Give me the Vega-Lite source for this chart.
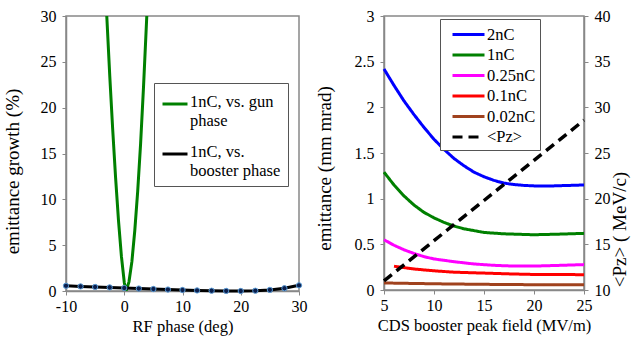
{
  "$schema": "https://vega.github.io/schema/vega-lite/v6.json",
  "background": "white",
  "padding": {"left": 2, "top": 7, "right": 5, "bottom": 5},
  "config": {
    "font": "Liberation Serif",
    "view": {"stroke": "#888", "strokeWidth": 1.5},
    "axis": {
      "labelFont": "Liberation Serif", "titleFont": "Liberation Serif",
      "labelFontSize": 16, "titleFontSize": 16.5, "titleFontWeight": "normal",
      "labelColor": "black", "titleColor": "black", "labelFlush": false,
      "domainColor": "#888", "tickColor": "#888", "domainWidth": 1.5,
      "grid": false, "tickSize": 4, "labelPadding": 3
    },
    "axisY": {"titleFontSize": 19, "labelPadding": 6},
    "legend": {"labelFont": "Liberation Serif", "labelFontSize": 16, "labelColor": "black"}
  },
  "datasets": {
    "gun": [
      {"phase": -3.0, "growth": 30, "series": "1nC, vs. gun phase"},
      {"phase": -2.49, "growth": 23.5, "series": "1nC, vs. gun phase"},
      {"phase": -1.99, "growth": 17.7, "series": "1nC, vs. gun phase"},
      {"phase": -1.49, "growth": 12.4, "series": "1nC, vs. gun phase"},
      {"phase": -0.99, "growth": 7.7, "series": "1nC, vs. gun phase"},
      {"phase": -0.49, "growth": 3.8, "series": "1nC, vs. gun phase"},
      {"phase": 0.01, "growth": 0.9, "series": "1nC, vs. gun phase"},
      {"phase": 0.31, "growth": 0, "series": "1nC, vs. gun phase"},
      {"phase": 0.81, "growth": 1.0, "series": "1nC, vs. gun phase"},
      {"phase": 1.31, "growth": 3.2, "series": "1nC, vs. gun phase"},
      {"phase": 1.81, "growth": 6.6, "series": "1nC, vs. gun phase"},
      {"phase": 2.31, "growth": 10.9, "series": "1nC, vs. gun phase"},
      {"phase": 2.81, "growth": 16.1, "series": "1nC, vs. gun phase"},
      {"phase": 3.31, "growth": 22.3, "series": "1nC, vs. gun phase"},
      {"phase": 3.87, "growth": 30, "series": "1nC, vs. gun phase"}
    ],
    "booster": [
      {"phase": -10, "growth": 0.57, "series": "1nC, vs. booster phase"},
      {"phase": -7.5, "growth": 0.5, "series": "1nC, vs. booster phase"},
      {"phase": -5, "growth": 0.44, "series": "1nC, vs. booster phase"},
      {"phase": -2.5, "growth": 0.39, "series": "1nC, vs. booster phase"},
      {"phase": 0, "growth": 0.33, "series": "1nC, vs. booster phase"},
      {"phase": 2.5, "growth": 0.27, "series": "1nC, vs. booster phase"},
      {"phase": 5, "growth": 0.22, "series": "1nC, vs. booster phase"},
      {"phase": 7.5, "growth": 0.16, "series": "1nC, vs. booster phase"},
      {"phase": 10, "growth": 0.11, "series": "1nC, vs. booster phase"},
      {"phase": 12.5, "growth": 0.06, "series": "1nC, vs. booster phase"},
      {"phase": 15, "growth": 0.03, "series": "1nC, vs. booster phase"},
      {"phase": 17.5, "growth": 0.01, "series": "1nC, vs. booster phase"},
      {"phase": 20, "growth": 0.0, "series": "1nC, vs. booster phase"},
      {"phase": 22.5, "growth": 0.03, "series": "1nC, vs. booster phase"},
      {"phase": 25, "growth": 0.12, "series": "1nC, vs. booster phase"},
      {"phase": 27.5, "growth": 0.3, "series": "1nC, vs. booster phase"},
      {"phase": 30, "growth": 0.62, "series": "1nC, vs. booster phase"}
    ],
    "emit": [
      {"field": 5, "emittance": 2.42, "series": "2nC"},
      {"field": 6, "emittance": 2.24, "series": "2nC"},
      {"field": 7, "emittance": 2.07, "series": "2nC"},
      {"field": 8, "emittance": 1.92, "series": "2nC"},
      {"field": 9, "emittance": 1.78, "series": "2nC"},
      {"field": 10, "emittance": 1.65, "series": "2nC"},
      {"field": 11, "emittance": 1.54, "series": "2nC"},
      {"field": 12, "emittance": 1.44, "series": "2nC"},
      {"field": 13, "emittance": 1.36, "series": "2nC"},
      {"field": 14, "emittance": 1.29, "series": "2nC"},
      {"field": 15, "emittance": 1.24, "series": "2nC"},
      {"field": 16, "emittance": 1.2, "series": "2nC"},
      {"field": 17, "emittance": 1.17, "series": "2nC"},
      {"field": 18, "emittance": 1.155, "series": "2nC"},
      {"field": 19, "emittance": 1.145, "series": "2nC"},
      {"field": 20, "emittance": 1.14, "series": "2nC"},
      {"field": 22, "emittance": 1.14, "series": "2nC"},
      {"field": 25, "emittance": 1.15, "series": "2nC"},
      {"field": 5, "emittance": 1.29, "series": "1nC"},
      {"field": 6, "emittance": 1.15, "series": "1nC"},
      {"field": 7, "emittance": 1.03, "series": "1nC"},
      {"field": 8, "emittance": 0.93, "series": "1nC"},
      {"field": 9, "emittance": 0.85, "series": "1nC"},
      {"field": 10, "emittance": 0.79, "series": "1nC"},
      {"field": 11, "emittance": 0.74, "series": "1nC"},
      {"field": 12, "emittance": 0.7, "series": "1nC"},
      {"field": 13, "emittance": 0.67, "series": "1nC"},
      {"field": 14, "emittance": 0.65, "series": "1nC"},
      {"field": 15, "emittance": 0.63, "series": "1nC"},
      {"field": 17, "emittance": 0.615, "series": "1nC"},
      {"field": 20, "emittance": 0.605, "series": "1nC"},
      {"field": 22, "emittance": 0.61, "series": "1nC"},
      {"field": 25, "emittance": 0.62, "series": "1nC"},
      {"field": 5, "emittance": 0.55, "series": "0.25nC"},
      {"field": 6, "emittance": 0.49, "series": "0.25nC"},
      {"field": 7, "emittance": 0.44, "series": "0.25nC"},
      {"field": 8, "emittance": 0.4, "series": "0.25nC"},
      {"field": 9, "emittance": 0.365, "series": "0.25nC"},
      {"field": 10, "emittance": 0.34, "series": "0.25nC"},
      {"field": 12, "emittance": 0.31, "series": "0.25nC"},
      {"field": 14, "emittance": 0.285, "series": "0.25nC"},
      {"field": 16, "emittance": 0.27, "series": "0.25nC"},
      {"field": 18, "emittance": 0.262, "series": "0.25nC"},
      {"field": 20, "emittance": 0.262, "series": "0.25nC"},
      {"field": 22, "emittance": 0.268, "series": "0.25nC"},
      {"field": 25, "emittance": 0.278, "series": "0.25nC"},
      {"field": 6, "emittance": 0.26, "series": "0.1nC"},
      {"field": 8, "emittance": 0.23, "series": "0.1nC"},
      {"field": 10, "emittance": 0.21, "series": "0.1nC"},
      {"field": 12, "emittance": 0.195, "series": "0.1nC"},
      {"field": 15, "emittance": 0.185, "series": "0.1nC"},
      {"field": 18, "emittance": 0.175, "series": "0.1nC"},
      {"field": 20, "emittance": 0.17, "series": "0.1nC"},
      {"field": 25, "emittance": 0.168, "series": "0.1nC"},
      {"field": 5, "emittance": 0.077, "series": "0.02nC"},
      {"field": 10, "emittance": 0.068, "series": "0.02nC"},
      {"field": 15, "emittance": 0.062, "series": "0.02nC"},
      {"field": 20, "emittance": 0.058, "series": "0.02nC"},
      {"field": 25, "emittance": 0.057, "series": "0.02nC"}
    ],
    "pz": [
      {"field": 5, "pz": 11.0, "series": "<Pz>"},
      {"field": 10, "pz": 15.4, "series": "<Pz>"},
      {"field": 15, "pz": 19.8, "series": "<Pz>"},
      {"field": 20, "pz": 24.2, "series": "<Pz>"},
      {"field": 25, "pz": 28.6, "series": "<Pz>"}
    ]
  },
  "spacing": 6,
  "resolve": {
    "scale": {"color": "independent", "strokeDash": "independent"},
    "legend": {"color": "independent", "strokeDash": "independent"}
  },
  "hconcat": [
    {
      "width": 233,
      "height": 275,
      "layer": [
        {
          "data": {"name": "gun"},
          "mark": {"type": "line", "strokeWidth": 3, "clip": true},
          "encoding": {
            "x": {"field": "phase", "type": "quantitative", "scale": {"domain": [-10, 30], "nice": false},
              "axis": {"values": [-10, -5, 0, 5, 10, 15, 20, 25, 30], "title": "RF phase (deg)",
                "labelExpr": "datum.value < 0 ? '-' + abs(datum.value) : datum.label"}},
            "y": {"field": "growth", "type": "quantitative", "scale": {"domain": [0, 30], "nice": false},
              "axis": {"values": [0, 5, 10, 15, 20, 25, 30], "title": "emittance growth (%)", "titleX": -44, "titleY": 155}},
            "color": {"field": "series", "type": "nominal",
              "scale": {"domain": ["1nC, vs. gun phase", "1nC, vs. booster phase"], "range": ["#008000", "#000000"]},
              "legend": {"orient": "none", "legendX": 88, "legendY": 67, "title": null,
                "strokeColor": "#555", "fillColor": "white", "padding": 7,
                "symbolType": "stroke", "symbolSize": 625, "symbolStrokeWidth": 3,
                "rowPadding": 11, "labelOffset": 1, "labelFontSize": 16.5,
                "labelExpr": "datum.label == '1nC, vs. gun phase' ? ['1nC, vs. gun', 'phase'] : ['1nC, vs.', 'booster phase']",
                "encode": {"labels": {"update": {"dy": {"value": -2}}}}}}
          }
        },
        {
          "data": {"name": "booster"},
          "mark": {"type": "line", "strokeWidth": 3},
          "encoding": {
            "x": {"field": "phase", "type": "quantitative"},
            "y": {"field": "growth", "type": "quantitative"},
            "color": {"field": "series", "type": "nominal"}
          }
        },
        {
          "data": {"name": "booster"},
          "mark": {"type": "point", "filled": true, "size": 28, "color": "#0b1f4d", "stroke": "#5b9bd5", "strokeWidth": 1, "opacity": 1},
          "encoding": {
            "x": {"field": "phase", "type": "quantitative"},
            "y": {"field": "growth", "type": "quantitative"}
          }
        }
      ]
    },
    {
      "width": 200,
      "height": 274,
      "layer": [
        {
          "data": {"name": "emit"},
          "mark": {"type": "line", "strokeWidth": 3},
          "encoding": {
            "x": {"field": "field", "type": "quantitative", "scale": {"domain": [5, 25], "nice": false},
              "axis": {"values": [5, 10, 15, 20, 25], "title": "CDS booster peak field (MV/m)"}},
            "y": {"field": "emittance", "type": "quantitative", "scale": {"domain": [0, 3], "nice": false},
              "axis": {"values": [0, 0.5, 1, 1.5, 2, 2.5, 3], "format": "~g", "title": "emittance (mm mrad)", "titleX": -50, "titleY": 152}},
            "color": {"field": "series", "type": "nominal",
              "scale": {"domain": ["2nC", "1nC", "0.25nC", "0.1nC", "0.02nC", "<Pz>"],
                "range": ["#0000ff", "#008000", "#ff00ff", "#ff0000", "#a0421e", "#000000"]},
              "legend": {"orient": "none", "legendX": 56, "legendY": 3, "title": null,
                "strokeColor": "#555", "fillColor": "white", "padding": 4,
                "symbolType": "M-1.6,0H1.6", "symbolSize": 400, "symbolStrokeWidth": 3, "symbolOffset": 13,
                "rowPadding": 0.5, "labelOffset": 7, "labelFontSize": 16.5}},
            "strokeDash": {"field": "series", "type": "nominal",
              "scale": {"domain": ["2nC", "1nC", "0.25nC", "0.1nC", "0.02nC", "<Pz>"],
                "range": [[1, 0], [1, 0], [1, 0], [1, 0], [1, 0], [10, 6]]},
              "legend": {"orient": "none", "legendX": 56, "legendY": 3, "title": null,
                "strokeColor": "#555", "fillColor": "white", "padding": 4,
                "symbolType": "M-1.6,0H1.6", "symbolSize": 400, "symbolStrokeWidth": 3, "symbolOffset": 13,
                "rowPadding": 0.5, "labelOffset": 7, "labelFontSize": 16.5}}
          }
        },
        {
          "data": {"name": "pz"},
          "mark": {"type": "line", "strokeWidth": 3.5},
          "encoding": {
            "x": {"field": "field", "type": "quantitative"},
            "y": {"field": "pz", "type": "quantitative", "scale": {"domain": [10, 40], "nice": false},
              "axis": {"orient": "right", "values": [10, 15, 20, 25, 30, 35, 40], "title": "<Pz> ( MeV/c)",
                "titleAngle": 270, "titleBaseline": "top", "titlePadding": 0, "titleY": 213}},
            "color": {"field": "series", "type": "nominal"},
            "strokeDash": {"field": "series", "type": "nominal"}
          }
        }
      ],
      "resolve": {"scale": {"y": "independent"}}
    }
  ]
}
